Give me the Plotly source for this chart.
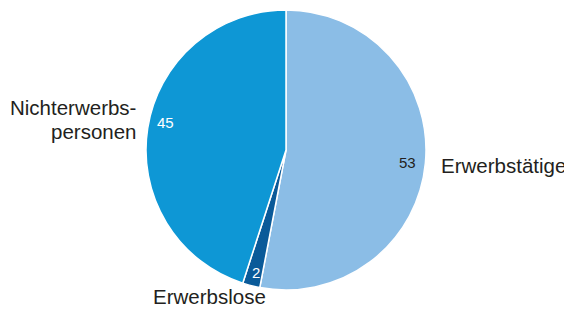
import math
import plotly.graph_objects as go

categories = ["Erwerbstätige", "Erwerbslose", "Nichterwerbspersonen"]
values = [53, 2, 45]
colors = ["#8bbde6", "#0a5a99", "#0e97d5"]
value_text_colors = ["#231f20", "#ffffff", "#ffffff"]

# the page body adds an 8px margin, so the figure is drawn 8px smaller
OFF = 8
W, H = 572 - OFF, 309 - OFF
CX, CY, R = 286 - OFF, 150 - OFF, 140
# small vertical nudges (px) of the value labels, per slice
VALUE_NUDGE = [1, 5, -8]

FONT = "Liberation Sans, Arial, Helvetica, sans-serif"

fig = go.Figure(go.Pie(
    labels=categories, values=values, sort=False, direction="clockwise",
    rotation=0, marker=dict(colors=colors, line=dict(color="white", width=1.5)),
    textinfo="none", showlegend=False, hoverinfo="label+value",
    domain=dict(x=[(CX - R) / W, (CX + R) / W], y=[1 - (CY + R) / H, 1 - (CY - R) / H]),
))

# value labels placed near the rim at each slice's mid-angle
total = sum(values)
cum = 0
for v, col, nudge in zip(values, value_text_colors, VALUE_NUDGE):
    mid = (cum + v / 2) / total * 2 * math.pi
    cum += v
    rf = 0.87
    px = CX + math.sin(mid) * R * rf
    py = CY - math.cos(mid) * R * rf + nudge
    fig.add_annotation(x=px / W, y=1 - py / H, xref="paper", yref="paper", text=str(v),
                       showarrow=False, xanchor="center", yanchor="middle",
                       font=dict(family=FONT, size=15, color=col))

lab_font = dict(family=FONT, size=20.5, color="#231f20")
fig.add_annotation(x=431 / W, y=1 - 157 / H, xref="paper", yref="paper", text=categories[0],
                   showarrow=False, xanchor="left", yanchor="middle", font=lab_font)
fig.add_annotation(x=143 / W, y=1 - 288.5 / H, xref="paper", yref="paper", text=categories[1],
                   showarrow=False, xanchor="left", yanchor="middle", font=lab_font)
fig.add_annotation(x=130 / W, y=1 - 100 / H, xref="paper", yref="paper", text="Nichterwerbs-",
                   showarrow=False, xanchor="right", yanchor="middle", font=lab_font)
fig.add_annotation(x=130 / W, y=1 - 123 / H, xref="paper", yref="paper", text="personen",
                   showarrow=False, xanchor="right", yanchor="middle", font=lab_font)

fig.update_layout(width=W, height=H, margin=dict(l=0, r=0, t=0, b=0),
                  paper_bgcolor="white", plot_bgcolor="white")
fig.write_html("out.html")
